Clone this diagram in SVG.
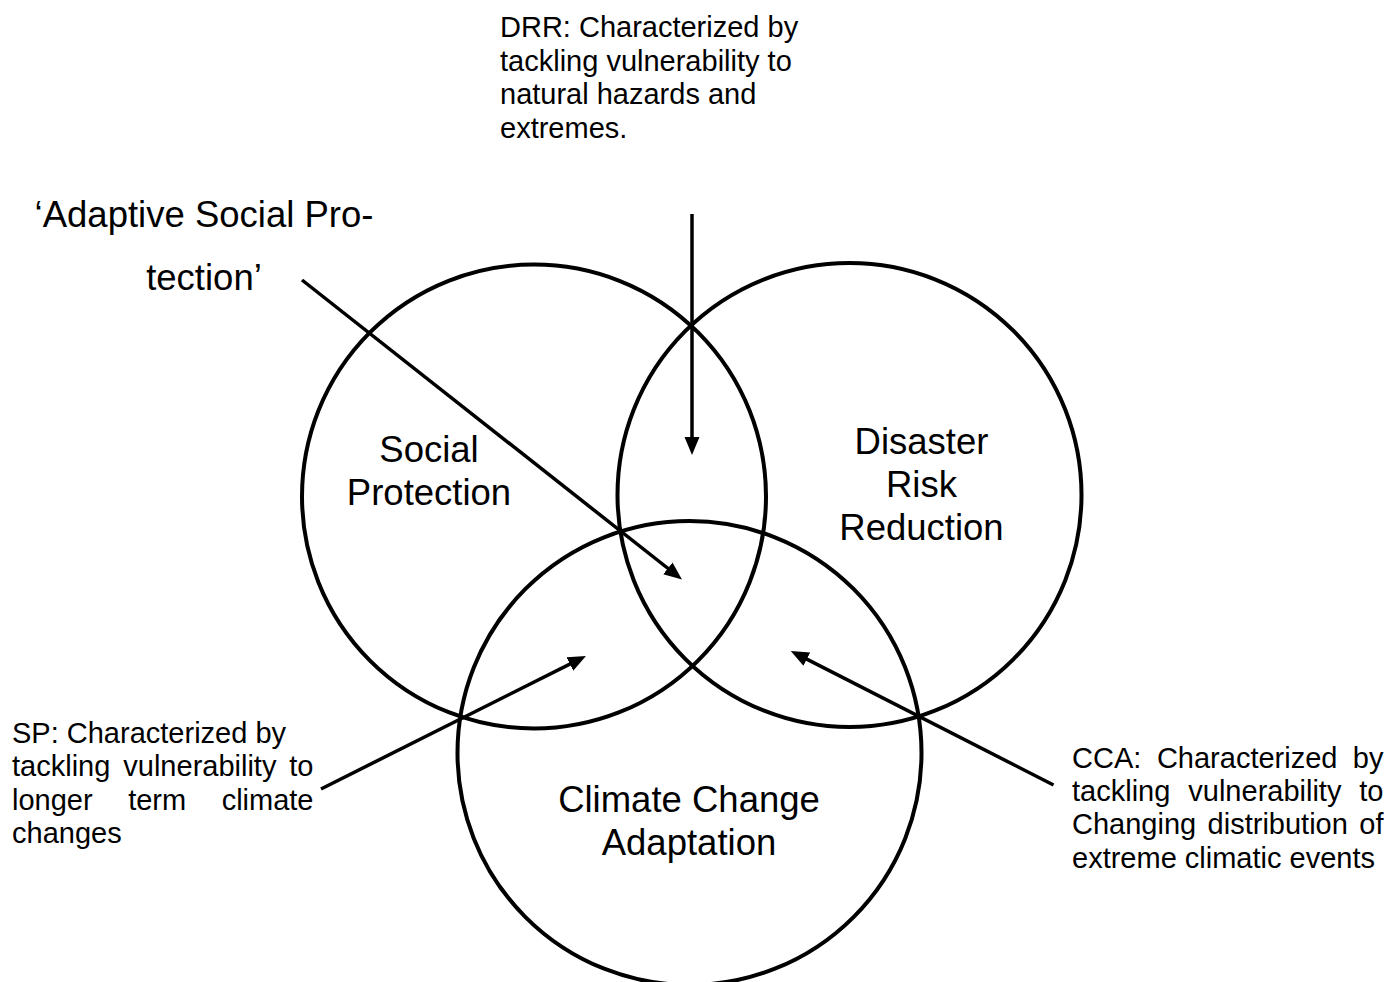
<svg xmlns="http://www.w3.org/2000/svg" width="1388" height="982" viewBox="0 0 1388 982">
  <style>
    .ring { fill: none; stroke: #000; stroke-width: 4; }
    .label { font-family: "Liberation Sans", Arial, sans-serif; font-size: 36.5px; fill: #000; text-anchor: middle; }
    .note { font-family: "Liberation Sans", Arial, sans-serif; font-size: 29px; fill: #000; }
    .end { text-anchor: end; }
    .link { stroke: #000; stroke-width: 3.5; fill: none; marker-end: url(#head); }
  </style>
  <defs>
    <marker id="head" markerUnits="userSpaceOnUse" markerWidth="18" markerHeight="16" refX="10" refY="7.5" orient="auto">
      <path d="M0,0 L18,7.5 L0,15 Z" fill="#000"/>
    </marker>
  </defs>
  <rect width="1388" height="982" fill="#fff"/>

  <!-- Social Protection -->
  <g id="social-protection">
    <circle class="ring" cx="534" cy="496.5" r="232"/>
    <text class="label" x="429" y="462">Social</text>
    <text class="label" x="429" y="505">Protection</text>
  </g>

  <!-- Disaster Risk Reduction -->
  <g id="disaster-risk-reduction">
    <circle class="ring" cx="849.5" cy="495" r="232"/>
    <text class="label" x="921.5" y="453.5">Disaster</text>
    <text class="label" x="921.5" y="496.5">Risk</text>
    <text class="label" x="921.5" y="539.5">Reduction</text>
  </g>

  <!-- Climate Change Adaptation -->
  <g id="climate-change-adaptation">
    <circle class="ring" cx="689.5" cy="753" r="232"/>
    <text class="label" x="689" y="811.5">Climate Change</text>
    <text class="label" x="689" y="855">Adaptation</text>
  </g>

  <!-- Overlap caption -->
  <g id="adaptive-social-protection">
    <text class="label" x="204" y="227">‘Adaptive Social Pro-</text>
    <text class="label" x="204" y="290">tection’</text>
  </g>

  <!-- DRR note -->
  <g id="drr-note">
    <text class="note" x="500" y="37">DRR: Characterized by</text>
    <text class="note" x="500" y="70.5">tackling vulnerability to</text>
    <text class="note" x="500" y="104">natural hazards and</text>
    <text class="note" x="500" y="137.5">extremes.</text>
  </g>

  <!-- SP note (justified) -->
  <g id="sp-note">
    <text class="note" x="12" y="743">SP: Characterized by</text>
    <text class="note" y="776.3"><tspan x="12">tackling</tspan><tspan x="123.3">vulnerability</tspan><tspan class="end" x="313.5" text-anchor="end">to</tspan></text>
    <text class="note" y="809.6"><tspan x="12">longer</tspan><tspan x="128.2">term</tspan><tspan x="313.5" text-anchor="end">climate</tspan></text>
    <text class="note" x="12" y="843">changes</text>
  </g>

  <!-- CCA note (justified) -->
  <g id="cca-note">
    <text class="note" y="767.7"><tspan x="1072">CCA:</tspan><tspan x="1156.9">Characterized</tspan><tspan x="1383.5" text-anchor="end">by</tspan></text>
    <text class="note" y="801"><tspan x="1072">tackling</tspan><tspan x="1188.3">vulnerability</tspan><tspan x="1383.5" text-anchor="end">to</tspan></text>
    <text class="note" y="834.3"><tspan x="1072">Changing</tspan><tspan x="1207.6">distribution</tspan><tspan x="1383.5" text-anchor="end">of</tspan></text>
    <text class="note" x="1072" y="867.6">extreme climatic events</text>
  </g>

  <!-- Connectors -->
  <g id="connectors">
    <line class="link" x1="692" y1="214" x2="692" y2="447"/>
    <line class="link" x1="302" y1="280" x2="675.7" y2="574.5"/>
    <line class="link" x1="321" y1="789" x2="578.8" y2="659.6"/>
    <line class="link" x1="1053.5" y1="785" x2="797.9" y2="654.6"/>
  </g>
</svg>
